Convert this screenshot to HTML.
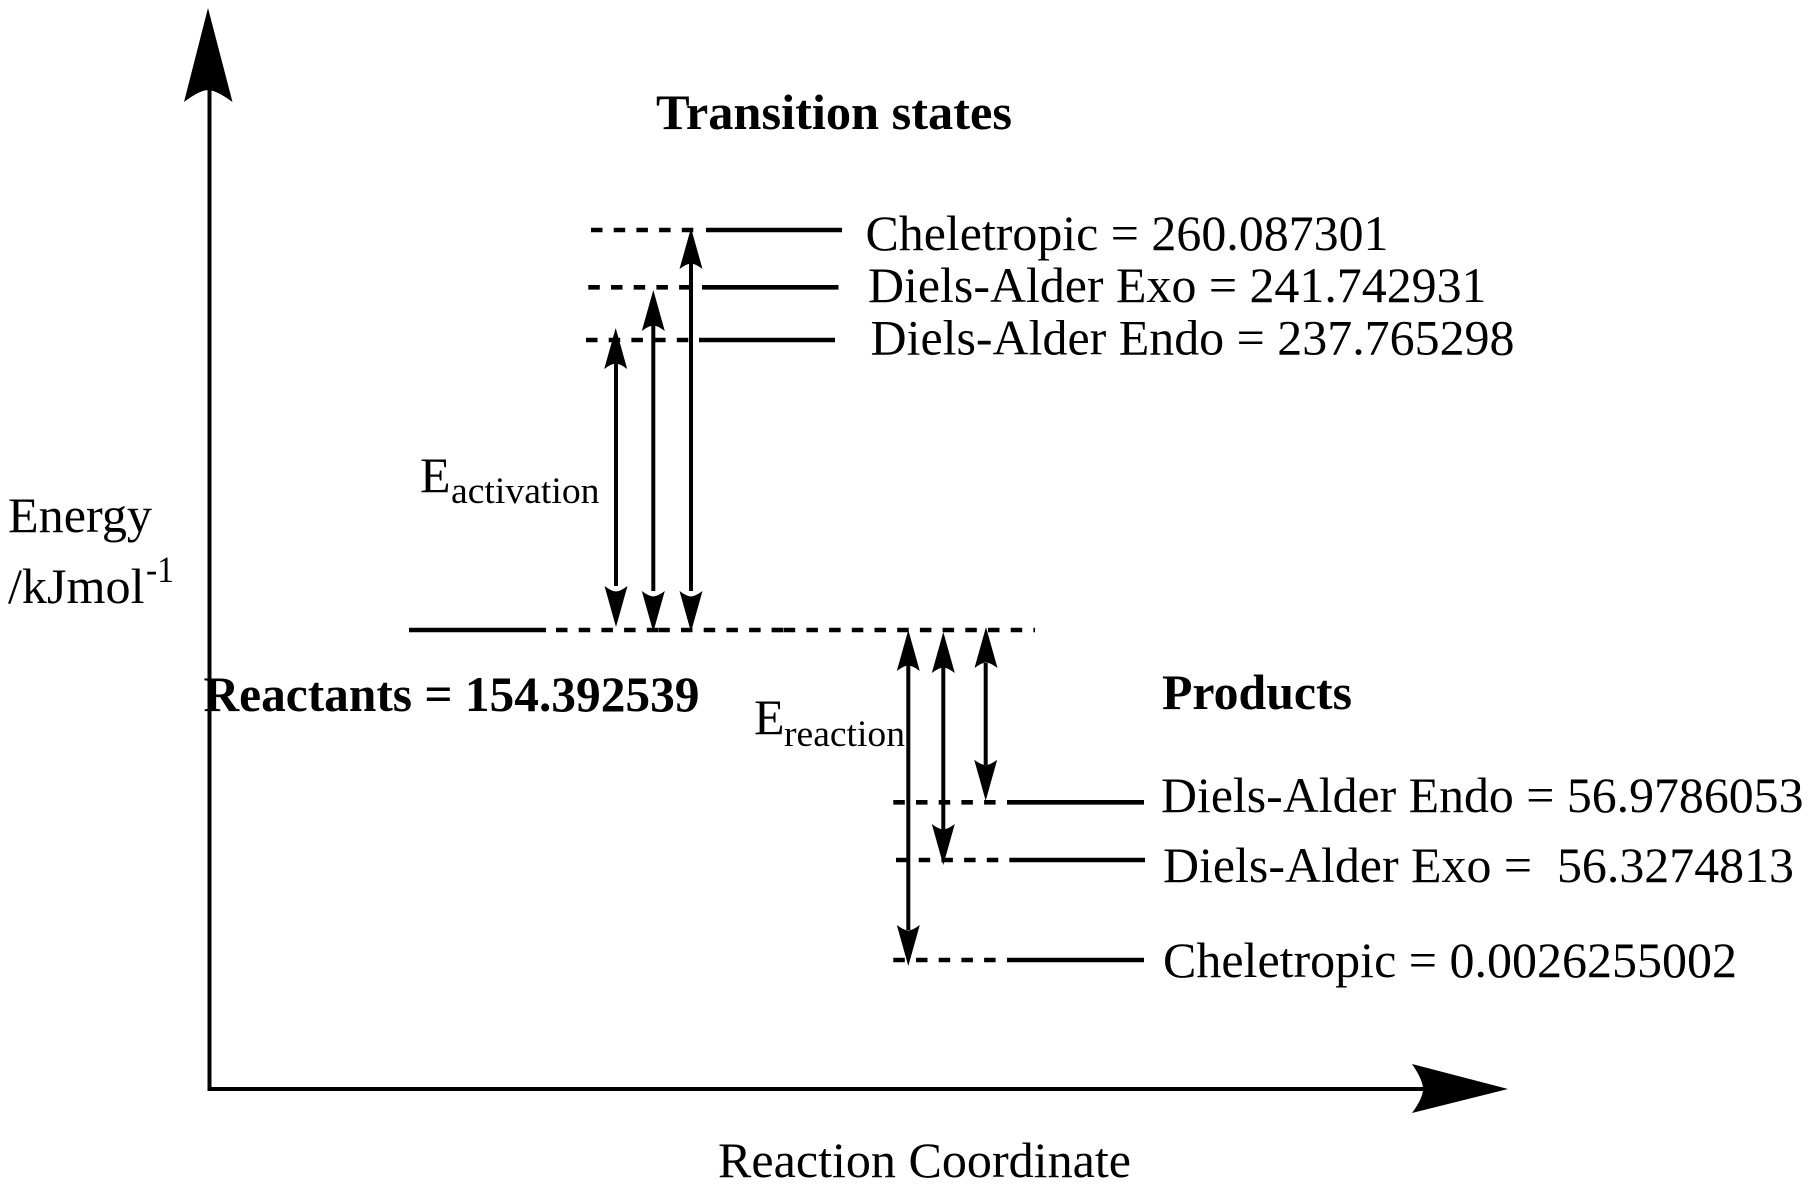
<!DOCTYPE html>
<html><head><meta charset="utf-8"><style>
html,body{margin:0;padding:0;background:#fff;width:1815px;height:1200px;overflow:hidden}
svg{display:block}
text{font-family:"Liberation Serif","Times New Roman",serif;font-size:50px;fill:#000}
.b{font-weight:bold}
.s{font-size:37.5px}
</style></head><body>
<svg width="1815" height="1200" viewBox="0 0 1815 1200" xmlns="http://www.w3.org/2000/svg">
<defs>
<path id="u" d="M0 0L11.5 41Q4 35.5 0 35.5Q-4 35.5 -11.5 41Z"/>
<path id="d" d="M0 0L11.5 -41Q4 -35.5 0 -35.5Q-4 -35.5 -11.5 -41Z"/>
</defs>
<!-- axes -->
<g stroke="#000" stroke-width="4" fill="none">
<path d="M209.5 1091V90"/>
<path d="M208 1089H1425"/>
</g>
<path d="M208 8L232.5 102Q216 90 208 90Q200 90 184 102Z"/>
<path d="M1508 1089L1412 1064Q1423 1080 1423 1089Q1423 1098 1412 1113Z"/>
<!-- levels: solid -->
<g stroke="#000" stroke-width="4.6" fill="none">
<path d="M706 230H842M702 287.3H838.5M699 340H835M409 630H546M1007 802.3H1144M1009.3 860H1145M1007 960H1144"/>
</g>
<!-- levels: dashed -->
<g stroke="#000" stroke-width="4.6" fill="none" stroke-dasharray="11.5 11.2">
<path d="M591 230H703"/>
<path d="M588.3 287.3H700"/>
<path d="M586 340H698"/>
<path d="M556 630H658"/>
<path d="M658.3 630H772"/>
<path d="M771.7 630H783.2" stroke-dasharray="none"/>
<path d="M783.7 630H1035"/>
<path d="M893.3 802.3H1006"/>
<path d="M896 860H1009"/>
<path d="M893.3 960H1006"/>
</g>
<!-- arrows -->
<g stroke="#000" stroke-width="4" fill="none">
<path d="M691 262V591M653.3 325V591M616 362V586"/>
<path d="M908.3 665V930M943.3 667V830M985.7 663V765"/>
</g>
<use href="#u" x="691" y="228"/>
<use href="#u" x="653.3" y="290"/>
<use href="#u" x="615.7" y="328"/>
<use href="#d" x="616" y="627"/>
<use href="#d" x="653.3" y="632"/>
<use href="#d" x="691" y="632"/>
<use href="#u" x="908.3" y="630"/>
<use href="#u" x="943.3" y="632"/>
<use href="#u" x="986" y="627"/>
<use href="#d" x="985.7" y="800.7"/>
<use href="#d" x="943.3" y="865"/>
<use href="#d" x="908.3" y="966"/>
<!-- text -->
<text class="b" x="656" y="129" textLength="356" lengthAdjust="spacingAndGlyphs">Transition states</text>
<text x="865.5" y="250" textLength="523" lengthAdjust="spacingAndGlyphs">Cheletropic = 260.087301</text>
<text x="868" y="302" textLength="618.5" lengthAdjust="spacingAndGlyphs">Diels-Alder Exo = 241.742931</text>
<text x="870.5" y="354.5" textLength="644" lengthAdjust="spacingAndGlyphs">Diels-Alder Endo = 237.765298</text>
<text x="8" y="532" textLength="144" lengthAdjust="spacingAndGlyphs">Energy</text>
<text x="8" y="603" textLength="136.5" lengthAdjust="spacingAndGlyphs">/kJmol</text>
<text class="s" x="146" y="582" textLength="28" lengthAdjust="spacingAndGlyphs">-1</text>
<text x="420" y="492">E</text>
<text class="s" x="451" y="503" textLength="148.5" lengthAdjust="spacingAndGlyphs">activation</text>
<text class="b" x="203.5" y="711" textLength="496" lengthAdjust="spacingAndGlyphs">Reactants = 154.392539</text>
<text x="754" y="734">E</text>
<text class="s" x="784" y="746" textLength="121" lengthAdjust="spacingAndGlyphs">reaction</text>
<text class="b" x="1162" y="709" textLength="190" lengthAdjust="spacingAndGlyphs">Products</text>
<text x="1161" y="812" textLength="642.5" lengthAdjust="spacingAndGlyphs">Diels-Alder Endo = 56.9786053</text>
<text x="1163" y="882" textLength="631" xml:space="preserve" lengthAdjust="spacingAndGlyphs">Diels-Alder Exo =  56.3274813</text>
<text x="1163" y="977" textLength="574" lengthAdjust="spacingAndGlyphs">Cheletropic = 0.0026255002</text>
<text x="718" y="1177" textLength="413" lengthAdjust="spacingAndGlyphs">Reaction Coordinate</text>
</svg>
</body></html>
